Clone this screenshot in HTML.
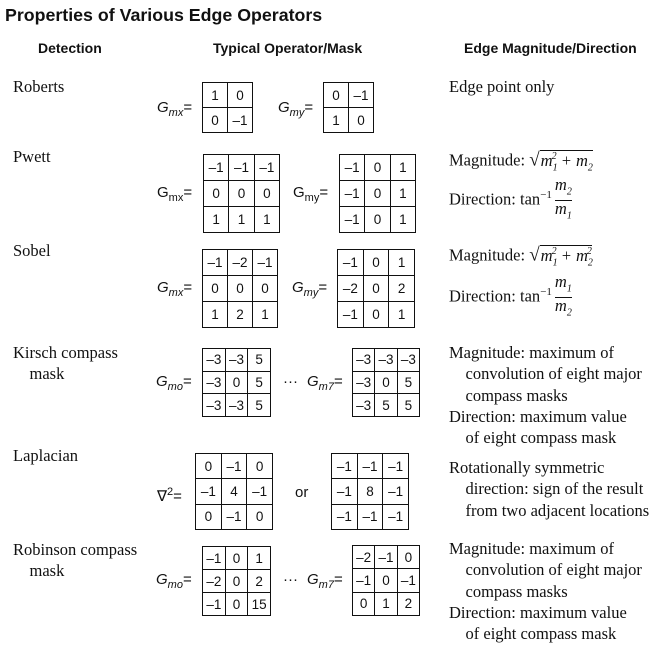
<!DOCTYPE html>
<html><head><meta charset="utf-8">
<style>
body{margin:0;width:667px;height:646px;background:#fff;position:relative;overflow:hidden;color:#111}
.a{position:absolute;white-space:nowrap;line-height:18px}
.s{font-family:"Liberation Serif",serif;font-size:16.5px}
.h{font-family:"Liberation Sans",sans-serif;font-weight:bold;font-size:14px}
.g{font-family:"Liberation Sans",sans-serif;font-size:15px}
table.m{position:absolute;border-collapse:collapse;font-family:"Liberation Sans",sans-serif;font-size:13.5px;table-layout:fixed}
table.m td{border:1.3px solid #111;text-align:center;padding:0}
sub{font-size:11px}
.fr{display:inline-block;vertical-align:middle;text-align:center;font-style:italic;line-height:16px;margin-left:3px}
.fr span{display:block}
.fr span:first-child{border-bottom:1px solid #111}
.sq{border-top:1px solid #111;font-style:italic;padding-left:1px}
</style></head><body>
<div class="a" style="left:5px;top:4px;font-family:'Liberation Sans',sans-serif;font-weight:bold;font-size:17.8px;line-height:22px">Properties of Various Edge Operators</div>
<div class="a h" style="left:38px;top:39px">Detection</div>
<div class="a h" style="left:213px;top:39px">Typical Operator/Mask</div>
<div class="a h" style="left:464px;top:39px">Edge Magnitude/Direction</div>

<div class="a s" style="left:13px;top:78px">Roberts</div>
<div class="a s" style="left:13px;top:148px">Pwett</div>
<div class="a s" style="left:13px;top:242px">Sobel</div>
<div class="a s" style="left:13px;top:342px;line-height:21px">Kirsch compass<br>&nbsp;&nbsp;&nbsp;&nbsp;mask</div>
<div class="a s" style="left:13px;top:447px">Laplacian</div>
<div class="a s" style="left:13px;top:539px;line-height:21px">Robinson compass<br>&nbsp;&nbsp;&nbsp;&nbsp;mask</div>

<div class="a s" style="left:449px;top:78px">Edge point only</div>
<div class="a s" style="left:449px;top:148px">Magnitude: <span style="font-size:19px">√</span><span class="sq">m<sub style="font-size:10px">1</sub><sup style="font-size:10px;margin-left:-6px">2</sup> + m<sub style="font-size:10px">2</sub></span></div>
<div class="a s" style="left:449px;top:177px">Direction: tan<sup style="font-size:11px">−1</sup><span class="fr"><span>m<sub style="font-size:10px">2</sub></span><span>m<sub style="font-size:10px">1</sub></span></span></div>
<div class="a s" style="left:449px;top:243px">Magnitude: <span style="font-size:19px">√</span><span class="sq">m<sub style="font-size:10px">1</sub><sup style="font-size:10px;margin-left:-6px">2</sup> + m<sub style="font-size:10px">2</sub><sup style="font-size:10px;margin-left:-6px">2</sup></span></div>
<div class="a s" style="left:449px;top:274px">Direction: tan<sup style="font-size:11px">−1</sup><span class="fr"><span>m<sub style="font-size:10px">1</sub></span><span>m<sub style="font-size:10px">2</sub></span></span></div>
<div class="a s" style="left:449px;top:342px;line-height:21.3px">Magnitude: maximum of<br>&nbsp;&nbsp;&nbsp;&nbsp;convolution of eight major<br>&nbsp;&nbsp;&nbsp;&nbsp;compass masks<br>Direction: maximum value<br>&nbsp;&nbsp;&nbsp;&nbsp;of eight compass mask</div>
<div class="a s" style="left:449px;top:457px;line-height:21.3px">Rotationally symmetric<br>&nbsp;&nbsp;&nbsp;&nbsp;direction: sign of the result<br>&nbsp;&nbsp;&nbsp;&nbsp;from two adjacent locations</div>
<div class="a s" style="left:449px;top:538px;line-height:21.3px">Magnitude: maximum of<br>&nbsp;&nbsp;&nbsp;&nbsp;convolution of eight major<br>&nbsp;&nbsp;&nbsp;&nbsp;compass masks<br>Direction: maximum value<br>&nbsp;&nbsp;&nbsp;&nbsp;of eight compass mask</div>

<div class="a g" style="left:157px;top:99px"><i>G<sub>mx</sub></i>=</div>
<div class="a g" style="left:278px;top:99px"><i>G<sub>my</sub></i>=</div>
<div class="a g" style="left:157px;top:184px">G<sub>mx</sub>=</div>
<div class="a g" style="left:293px;top:184px">G<sub>my</sub>=</div>
<div class="a g" style="left:157px;top:279px"><i>G<sub>mx</sub></i>=</div>
<div class="a g" style="left:292px;top:279px"><i>G<sub>my</sub></i>=</div>
<div class="a g" style="left:156px;top:373px"><i>G<sub>mo</sub></i>=</div>
<div class="a g" style="left:283px;top:373px">···</div>
<div class="a g" style="left:307px;top:373px"><i>G<sub>m7</sub></i>=</div>
<div class="a g" style="left:157px;top:483px">∇<sup style="font-size:11px">2</sup>=</div>
<div class="a g" style="left:295px;top:484px">or</div>
<div class="a g" style="left:156px;top:571px"><i>G<sub>mo</sub></i>=</div>
<div class="a g" style="left:283px;top:571px">···</div>
<div class="a g" style="left:307px;top:571px"><i>G<sub>m7</sub></i>=</div>

<script>
const masks=[
 ["roberts-gmx",202,82,51,50,[["1","0"],["0","–1"]]],
 ["roberts-gmy",323,82,51,50,[["0","–1"],["1","0"]]],
 ["pwett-gmx",203,154,77,78,[["–1","–1","–1"],["0","0","0"],["1","1","1"]]],
 ["pwett-gmy",339,154,77,78,[["–1","0","1"],["–1","0","1"],["–1","0","1"]]],
 ["sobel-gmx",202,249,76,78,[["–1","–2","–1"],["0","0","0"],["1","2","1"]]],
 ["sobel-gmy",337,249,78,78,[["–1","0","1"],["–2","0","2"],["–1","0","1"]]],
 ["kirsch-gmo",202,348,69,68,[["–3","–3","5"],["–3","0","5"],["–3","–3","5"]]],
 ["kirsch-gm7",352,348,68,68,[["–3","–3","–3"],["–3","0","5"],["–3","5","5"]]],
 ["laplacian-4",195,453,78,76,[["0","–1","0"],["–1","4","–1"],["0","–1","0"]]],
 ["laplacian-8",331,453,78,76,[["–1","–1","–1"],["–1","8","–1"],["–1","–1","–1"]]],
 ["robinson-gmo",202,546,69,69,[["–1","0","1"],["–2","0","2"],["–1","0","15"]]],
 ["robinson-gm7",352,545,68,70,[["–2","–1","0"],["–1","0","–1"],["0","1","2"]]]
];
for(const [name,x,y,w,h,rows] of masks){
 const t=document.createElement('table');t.className='m';
 
 
 t.style.left=x+'px';t.style.top=y+'px';t.style.width=w+'px';t.style.height=h+'px';
 rows.forEach((r,i)=>{const tr=t.insertRow();r.forEach((v,j)=>{const td=tr.insertCell();td.textContent=v;
 
 
 td.style.height=(h/rows.length-1)+'px';});});
 document.body.appendChild(t);
}
</script>
</body></html>
